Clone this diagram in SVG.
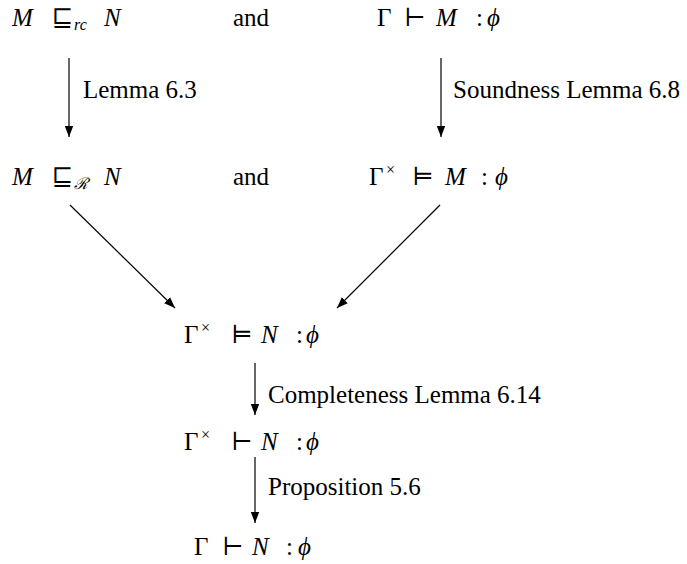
<svg xmlns="http://www.w3.org/2000/svg" width="687" height="564" viewBox="0 0 687 564">
<style>
text{font-family:"Liberation Serif","DejaVu Serif",serif;font-size:25px;fill:#000}
.i{font-style:italic}
.s{font-size:16px}
.c line{stroke:#000;stroke-width:1.2;fill:none}
</style>
<defs>
<marker id="ah" markerUnits="userSpaceOnUse" markerWidth="12" markerHeight="12" viewBox="0 0 12 10" refX="11" refY="5" orient="auto">
<path d="M0,0.8 L11,5 L0,9.2 Z" fill="#000"/>
</marker>
</defs>
<rect width="687" height="564" fill="#fff"/>
<g id="n1"><text y="26"><tspan class="i" x="12">M</tspan><tspan x="52">⊑</tspan></text><text class="i s" x="74" y="30">rc</text><text class="i" x="104" y="26">N</text></g>
<g id="and1"><text x="233" y="26">and</text></g>
<g id="n2"><text y="26"><tspan x="377">Γ</tspan><tspan x="404">⊢</tspan><tspan class="i" x="436">M</tspan><tspan x="476">:</tspan><tspan class="i" x="487">ϕ</tspan></text></g>
<g id="n3"><text y="185"><tspan class="i" x="12">M</tspan><tspan x="52">⊑</tspan></text><text class="i s" x="74" y="189">ℛ</text><text class="i" x="104" y="185">N</text></g>
<g id="and2"><text x="233" y="185">and</text></g>
<g id="n4"><text y="185"><tspan x="369">Γ</tspan><tspan class="s" x="386" y="175">×</tspan><tspan x="412" y="185">⊨</tspan><tspan class="i" x="445">M</tspan><tspan x="481">:</tspan><tspan class="i" x="495">ϕ</tspan></text></g>
<g id="n5"><text y="343"><tspan x="184">Γ</tspan><tspan class="s" x="201" y="333">×</tspan><tspan x="231" y="343">⊨</tspan><tspan class="i" x="261">N</tspan><tspan x="296">:</tspan><tspan class="i" x="306">ϕ</tspan></text></g>
<g id="n6"><text y="450"><tspan x="184">Γ</tspan><tspan class="s" x="201" y="440">×</tspan><tspan x="231" y="450">⊢</tspan><tspan class="i" x="261">N</tspan><tspan x="296">:</tspan><tspan class="i" x="306">ϕ</tspan></text></g>
<g id="n7"><text y="555"><tspan x="194">Γ</tspan><tspan x="222">⊢</tspan><tspan class="i" x="252">N</tspan><tspan x="286">:</tspan><tspan class="i" x="298">ϕ</tspan></text></g>
<g id="connectors" class="c">
<line x1="69" y1="58" x2="69" y2="137" marker-end="url(#ah)"/>
<line x1="441" y1="58" x2="441" y2="137" marker-end="url(#ah)"/>
<line x1="70" y1="205" x2="175" y2="308" marker-end="url(#ah)"/>
<line x1="440" y1="205" x2="337" y2="308" marker-end="url(#ah)"/>
<line x1="255" y1="363" x2="255" y2="415" marker-end="url(#ah)"/>
<line x1="255" y1="457" x2="255" y2="523" marker-end="url(#ah)"/>
<text x="83" y="98">Lemma 6.3</text>
<text x="453" y="98">Soundness Lemma 6.8</text>
<text x="268" y="403">Completeness Lemma 6.14</text>
<text x="268" y="495">Proposition 5.6</text>
</g>
</svg>
